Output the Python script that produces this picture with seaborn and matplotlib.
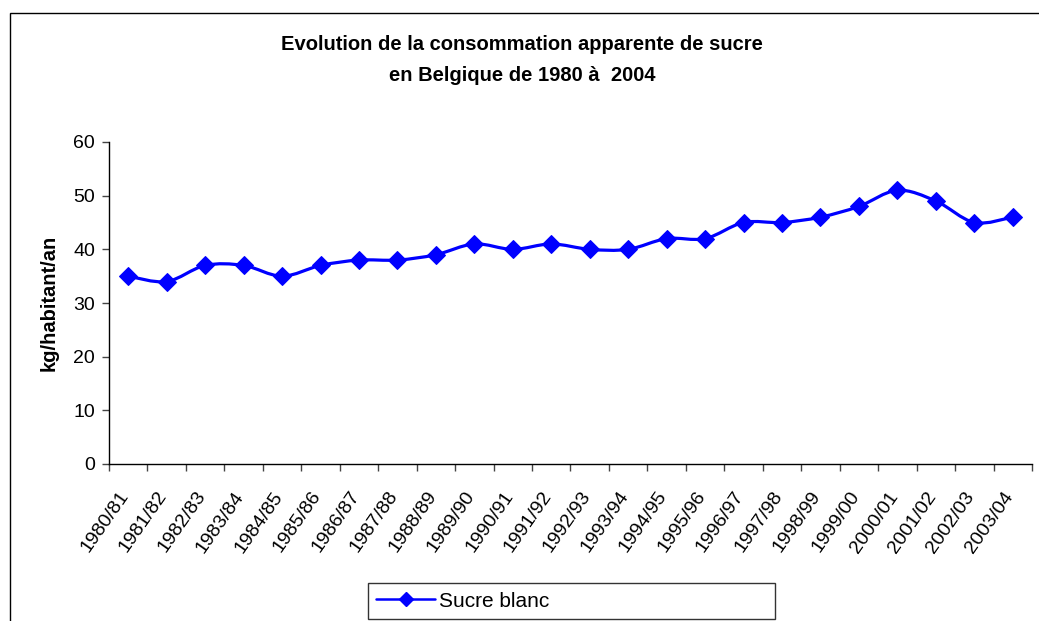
import matplotlib
matplotlib.use("Agg")
import matplotlib.pyplot as plt
import matplotlib.transforms as mtransforms
import seaborn as sns
import numpy as np
import pandas as pd
from matplotlib.path import Path
from matplotlib.patches import PathPatch, Rectangle
from matplotlib.lines import Line2D

seasons = ["1980/81", "1981/82", "1982/83", "1983/84", "1984/85", "1985/86",
           "1986/87", "1987/88", "1988/89", "1989/90", "1990/91", "1991/92",
           "1992/93", "1993/94", "1994/95", "1995/96", "1996/97", "1997/98",
           "1998/99", "1999/00", "2000/01", "2001/02", "2002/03", "2003/04"]
sucre_blanc = [35, 34, 37, 37, 35, 37, 38, 38, 39, 41, 40, 41,
               40, 40, 42, 42, 45, 45, 46, 48, 51, 49, 45, 46]
y_ticks = [0, 10, 20, 30, 40, 50, 60]

title = "Evolution de la consommation apparente de sucre\nen Belgique de 1980 à  2004"
y_label = "kg/habitant/an"
series_name = "Sucre blanc"

sns.set_theme(style="white")
plt.rcParams["font.family"] = ["Liberation Sans", "DejaVu Sans"]
plt.rcParams["text.color"] = "black"
plt.rcParams["axes.labelcolor"] = "black"
plt.rcParams["xtick.color"] = "black"
plt.rcParams["ytick.color"] = "black"

BLUE = "#0000FF"
df = pd.DataFrame({"pos": np.arange(len(seasons)), "val": sucre_blanc})

fig = plt.figure(figsize=(10.39, 6.21), dpi=100)
W, H = 1039, 621
ax = fig.add_axes([109 / W, 1 - 464 / H, (1032 - 109) / W, (464 - 142) / H])

# smooth line (Bezier through data points)
pts = np.column_stack([df["pos"].values, df["val"].values]).astype(float)
n = len(pts)
verts = [tuple(pts[0])]
codes = [Path.MOVETO]
for i in range(n - 1):
    p0 = pts[i - 1] if i > 0 else pts[i]
    p1 = pts[i]
    p2 = pts[i + 1]
    p3 = pts[i + 2] if i + 2 < n else pts[i + 1]
    c1 = p1 + (p2 - p0) / 6.0
    c2 = p2 - (p3 - p1) / 6.0
    verts += [tuple(c1), tuple(c2), tuple(p2)]
    codes += [Path.CURVE4, Path.CURVE4, Path.CURVE4]
ax.add_patch(PathPatch(Path(verts, codes), facecolor="none", edgecolor=BLUE,
                       linewidth=2.3, zorder=2))

sns.lineplot(data=df, x="pos", y="val", ax=ax, marker="D", markersize=9.5,
             color=BLUE, markeredgecolor=BLUE, linewidth=0, zorder=3)

ax.set_xlim(-0.5, len(seasons) - 0.5)
ax.set_ylim(0, 60)
ax.set_yticks(y_ticks)
ax.set_yticklabels([str(t) for t in y_ticks])
ax.set_xticks(np.arange(len(seasons) + 1) - 0.5)
ax.set_xticklabels([])
ax.set_xticks(np.arange(len(seasons)), minor=True)
ax.set_xticklabels(seasons, minor=True, rotation=55,
                   ha="right", va="center", rotation_mode="anchor")
ax.tick_params(axis="x", which="major", direction="out", length=5, width=1,
               color="#444444", bottom=True)
ax.tick_params(axis="x", which="minor", length=0, pad=21, bottom=True,
               labelsize=14)
ax.tick_params(axis="y", direction="out", length=5, width=1, color="#444444",
               left=True, pad=5, labelsize=14)
offset = mtransforms.ScaledTranslation(-3 / 100, 0, fig.dpi_scale_trans)
for lbl in ax.get_xticklabels(minor=True):
    lbl.set_transform(lbl.get_transform() + offset)
ax.set_xlabel("")
ax.set_ylabel(y_label, fontsize=14.5, fontweight="bold")
ax.yaxis.set_label_coords(-0.055, 0.5)
for s in ["top", "right"]:
    ax.spines[s].set_visible(False)
for s in ["left", "bottom"]:
    ax.spines[s].set_color("black")
    ax.spines[s].set_linewidth(1)

fig.text(522 / W, 1 - 60 / H, title, ha="center", va="center",
         fontsize=14.5, fontweight="bold", linespacing=1.75)

# outer frame
fig.patches.append(Rectangle((10 / W, -0.1), 1.2, 1 - 13 / H + 0.1,
                             transform=fig.transFigure, fill=False,
                             edgecolor="black", linewidth=1))

handle = Line2D([], [], color=BLUE, linewidth=1.8, marker="D", markersize=7,
                markeredgecolor=BLUE)
leg = fig.legend([handle], [series_name], loc="lower left",
                 bbox_to_anchor=(368 / W, 1 - 619 / H, (775 - 368) / W, 34 / H),
                 mode="expand", borderaxespad=0, fancybox=False, frameon=True,
                 edgecolor="black", fontsize=15, handlelength=2.8,
                 handletextpad=0.2, borderpad=0.4)
leg.get_frame().set_linewidth(1)

fig.savefig("out.png", dpi=100)
